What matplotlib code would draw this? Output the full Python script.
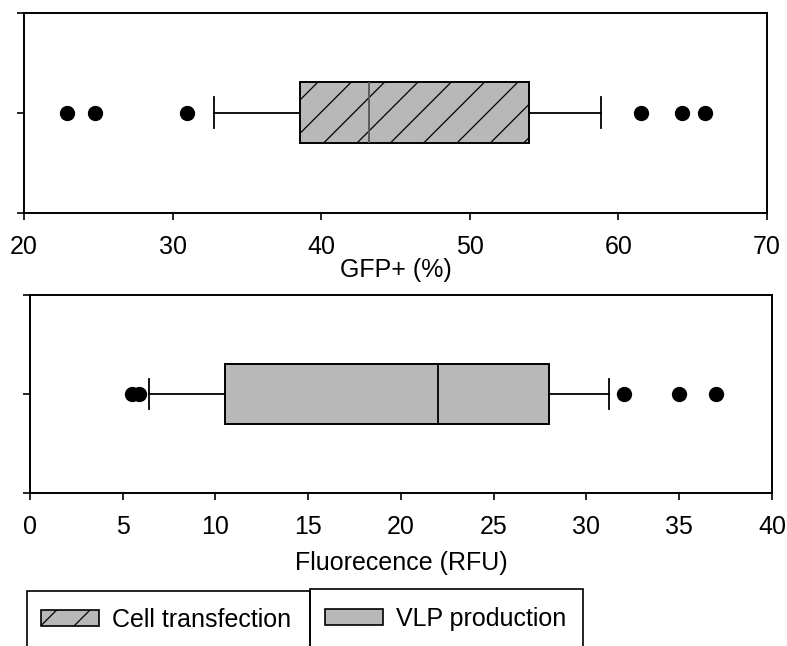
import matplotlib
matplotlib.use("Agg")
import matplotlib.pyplot as plt
from matplotlib.patches import Patch, Rectangle

plt.rcParams['font.family'] = ['Liberation Sans', 'DejaVu Sans']
plt.rcParams['font.size'] = 18
plt.rcParams['hatch.linewidth'] = 0.9

# GFP+ (%) after cell transfection
gfp_q1, gfp_med, gfp_q3 = 38.6, 43.2, 54.0
gfp_whislo, gfp_whishi = 32.8, 58.8
gfp_fliers = [22.9, 24.8, 31.0, 61.5, 64.3, 65.8]
gfp_ticks = [20, 30, 40, 50, 60, 70]

# Fluorescence (RFU) of VLP production
rfu_q1, rfu_med, rfu_q3 = 10.5, 22.0, 28.0
rfu_whislo, rfu_whishi = 6.4, 31.2
rfu_fliers = [5.5, 5.9, 32.0, 35.0, 37.0]
rfu_ticks = [0, 5, 10, 15, 20, 25, 30, 35, 40]

labels = ["Cell transfection", "VLP production"]

BOX_FACE = "#b8b8b8"
W, H = 787, 646


def draw_box(ax, q1, med, q3, lo, hi, fliers, ticks, xlabel, label_y, hatch, med_color):
    stats = [dict(med=med, q1=q1, q3=q3, whislo=lo, whishi=hi, fliers=fliers)]
    ax.bxp(stats, positions=[1], widths=0.61, capwidths=0.31, vert=False,
           patch_artist=True, manage_ticks=False,
           boxprops=dict(facecolor=BOX_FACE, edgecolor="black", linewidth=1.4, hatch=hatch),
           medianprops=dict(color=med_color, linewidth=1.3),
           whiskerprops=dict(color="black", linewidth=1.3),
           capprops=dict(color="black", linewidth=1.3),
           flierprops=dict(marker="o", markerfacecolor="black", markeredgecolor="black",
                           markersize=10, linestyle="none"))
    ax.set_xlim(ticks[0], ticks[-1])
    ax.set_ylim(0, 2)
    ax.set_xticks(ticks)
    ax.set_yticks([0, 1, 2])
    ax.set_yticklabels([])
    ax.tick_params(axis="x", direction="out", length=5, width=1.2, pad=10.5)
    ax.tick_params(axis="y", direction="out", length=5, width=1.2)
    for sp in ax.spines.values():
        sp.set_linewidth(1.4)
    ax.text(0.5, label_y, xlabel, transform=ax.transAxes, ha="center", va="center")


fig = plt.figure(figsize=(W / 100, H / 100), dpi=100)

ax1 = fig.add_axes([0.0305, 0.6703, 0.9441, 0.3096])
draw_box(ax1, gfp_q1, gfp_med, gfp_q3, gfp_whislo, gfp_whishi, gfp_fliers,
         gfp_ticks, "GFP+ (%)", -0.285, "/", "#555555")

ax2 = fig.add_axes([0.0381, 0.2368, 0.9428, 0.3065])
draw_box(ax2, rfu_q1, rfu_med, rfu_q3, rfu_whislo, rfu_whishi, rfu_fliers,
         rfu_ticks, "Fluorecence (RFU)", -0.354, None, "black")

# legend frames run off the bottom edge
for x0, x1, y0 in [(27, 310, 591), (310, 583, 589)]:
    fig.patches.append(Rectangle((x0 / W, -0.05), (x1 - x0) / W, 1 - y0 / H + 0.05,
                                 transform=fig.transFigure, facecolor="none",
                                 edgecolor="black", linewidth=1.2))

legend_kw = dict(loc="center left", frameon=False, borderpad=0, borderaxespad=0,
                 handlelength=2.3, handleheight=0.6, handletextpad=0.56, fontsize=18)
h1 = Patch(facecolor=BOX_FACE, edgecolor="black", hatch="/", linewidth=1.2)
h2 = Patch(facecolor=BOX_FACE, edgecolor="black", linewidth=1.2)
fig.legend(handles=[h1], labels=[labels[0]], bbox_to_anchor=(41 / W, 1 - 620 / H), **legend_kw)
fig.legend(handles=[h2], labels=[labels[1]], bbox_to_anchor=(325 / W, 1 - 619 / H), **legend_kw)

fig.savefig("out.png", dpi=100)
